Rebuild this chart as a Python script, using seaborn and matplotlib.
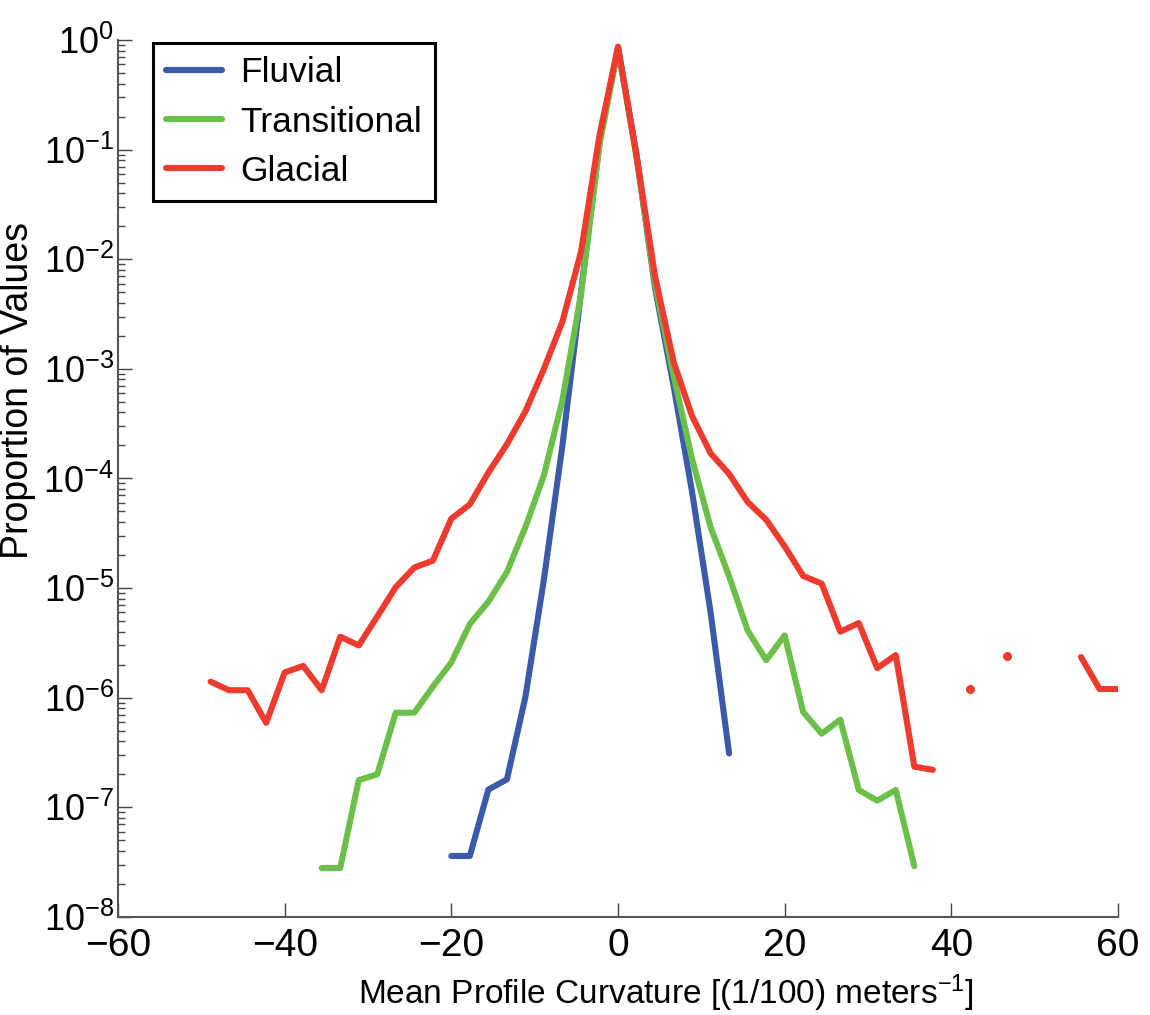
import numpy as np
import pandas as pd
import matplotlib
matplotlib.use("Agg")
import matplotlib.pyplot as plt
from matplotlib.lines import Line2D
from matplotlib.ticker import FixedLocator, LogLocator, NullFormatter
import seaborn as sns

# bin centres of the curvature histogram (1/100 m^-1)
bin_centers = [-48.89, -46.67, -44.44, -42.22, -40.0, -37.78, -35.56, -33.33, -31.11, -28.89,
               -26.67, -24.44, -22.22, -20.0, -17.78, -15.56, -13.33, -11.11, -8.89, -6.67,
               -4.44, -2.22, 0.0, 2.22, 4.44, 6.67, 8.89, 11.11, 13.33, 15.56,
               17.78, 20.0, 22.22, 24.44, 26.67, 28.89, 31.11, 33.33, 35.56, 37.78,
               40.0, 42.22, 44.44, 46.67, 48.89, 51.11, 53.33, 55.56, 57.78, 60.0]

nan = np.nan
fluvial = [nan, nan, nan, nan, nan, nan, nan, nan, nan, nan,
           nan, nan, nan, 3.6e-8, 3.6e-8, 1.45e-7, 1.8e-7, 1.02e-6, 1.2e-5, 2.0e-4,
           5.0e-3, 0.12, 0.85, 0.09, 5.5e-3, 7.0e-4, 7.5e-5, 6.0e-6, 3.1e-7, nan,
           nan, nan, nan, nan, nan, nan, nan, nan, nan, nan,
           nan, nan, nan, nan, nan, nan, nan, nan, nan, nan]
transitional = [nan, nan, nan, nan, nan, nan, 2.8e-8, 2.8e-8, 1.77e-7, 2.0e-7,
                7.3e-7, 7.3e-7, 1.26e-6, 2.1e-6, 4.7e-6, 7.5e-6, 1.4e-5, 3.6e-5, 1.07e-4, 5.2e-4,
                4.8e-3, 0.11, 0.84, 0.085, 6.0e-3, 8.7e-4, 1.5e-4, 3.6e-5, 1.28e-5, 4.1e-6,
                2.2e-6, 3.7e-6, 7.4e-7, 4.7e-7, 6.3e-7, 1.44e-7, 1.15e-7, 1.44e-7, 2.9e-8, nan,
                nan, nan, nan, nan, nan, nan, nan, nan, nan, nan]
glacial = [1.4e-6, 1.17e-6, 1.17e-6, 5.9e-7, 1.7e-6, 1.95e-6, 1.17e-6, 3.6e-6, 3.0e-6, 5.5e-6,
           1.02e-5, 1.54e-5, 1.78e-5, 4.3e-5, 5.8e-5, 1.13e-4, 2.05e-4, 4.1e-4, 1.0e-3, 2.7e-3,
           1.17e-2, 0.135, 0.87, 0.088, 7.0e-3, 1.16e-3, 3.7e-4, 1.7e-4, 1.1e-4, 6.1e-5,
           4.2e-5, 2.4e-5, 1.29e-5, 1.1e-5, 4.0e-6, 4.8e-6, 1.86e-6, 2.45e-6, 2.35e-7, 2.2e-7,
           nan, 1.2e-6, nan, 2.4e-6, nan, nan, nan, 2.35e-6, 1.2e-6, 1.2e-6]

series_names = ["Fluvial", "Transitional", "Glacial"]
series_colors = ["#3B5BAA", "#6CC04A", "#EE3B2D"]
y_decades = [1e-8, 1e-7, 1e-6, 1e-5, 1e-4, 1e-3, 1e-2, 1e-1, 1e0]

sns.set_style("ticks")
plt.rcParams["font.family"] = ["Liberation Sans", "DejaVu Sans"]
plt.rcParams["mathtext.fontset"] = "custom"
plt.rcParams["mathtext.rm"] = "Liberation Sans"
plt.rcParams["mathtext.it"] = "Liberation Sans"
plt.rcParams["mathtext.bf"] = "Liberation Sans"
plt.rcParams["xtick.direction"] = "in"
plt.rcParams["ytick.direction"] = "in"
plt.rcParams["text.color"] = "black"
plt.rcParams["axes.labelcolor"] = "black"
plt.rcParams["xtick.labelcolor"] = "black"
plt.rcParams["ytick.labelcolor"] = "black"

fig = plt.figure(figsize=(11.5, 10.15), dpi=100)
ax = fig.add_axes([0.1026, 0.0966, 0.8696, 0.864])


def segments(values):
    # split a series into runs without gaps (zero counts are missing on log axis)
    seg, cur, prev = [], 0, False
    for v in values:
        ok = not np.isnan(v)
        if ok and not prev:
            cur += 1
        seg.append(cur if ok else -1)
        prev = ok
    return seg


for name, vals, col in zip(series_names, [fluvial, transitional, glacial], series_colors):
    df = pd.DataFrame({"x": bin_centers, "y": vals, "seg": segments(vals)})
    df = df[df["seg"] >= 0]
    counts = df["seg"].value_counts()
    lines = df[df["seg"].map(counts) > 1]
    single = df[df["seg"].map(counts) == 1]
    sns.lineplot(data=lines, x="x", y="y", units="seg", estimator=None, sort=False,
                 color=col, linewidth=4.4, ax=ax, legend=False)
    if len(single):
        sns.scatterplot(data=single, x="x", y="y", color=col, s=42, linewidth=0, ax=ax,
                        legend=False)

ax.set_yscale("log")
ax.set_xlim(-60, 60)
ax.set_ylim(1e-8, 1)
ax.set_xticks([-60, -40, -20, 0, 20, 40, 60])
ax.set_xticklabels(["\u221260", "\u221240", "\u221220", "0", "20", "40", "60"])
ax.yaxis.set_major_locator(FixedLocator(y_decades))
ax.yaxis.set_minor_locator(LogLocator(base=10, subs=np.arange(2, 10), numticks=20))
ax.yaxis.set_minor_formatter(NullFormatter())
ax.tick_params(axis="x", which="major", labelsize=28, length=10, width=1, color="#444444",
               pad=8)
ax.tick_params(axis="y", which="major", labelsize=26, length=10, width=1, color="#444444",
               pad=3)
ax.tick_params(axis="y", which="minor", length=5, width=1, color="#444444")
ax.tick_params(axis="x", which="minor", length=0)

sns.despine(ax=ax)
for s in ["left", "bottom"]:
    ax.spines[s].set_color("#555555")
    ax.spines[s].set_linewidth(1.5)

ax.set_xlabel("Mean Profile Curvature [(1/100) meters$^{-1}$]", fontsize=24)
ax.xaxis.set_label_coords(0.548, -0.063)
ax.set_ylabel("Proportion of Values", fontsize=27)
ax.yaxis.set_label_coords(-0.082, 0.6)

handles = [Line2D([], [], color=c, linewidth=4.4) for c in series_colors]
leg = ax.legend(handles, series_names, loc="upper left", bbox_to_anchor=(0.035, 0.996),
                fontsize=25.5, handlelength=1.6, handletextpad=0.5, labelspacing=0.46,
                borderpad=0.36, borderaxespad=0, fancybox=False, framealpha=1)
leg.get_frame().set_edgecolor("black")
leg.get_frame().set_linewidth(2.2)

fig.savefig("out.png", dpi=100)
